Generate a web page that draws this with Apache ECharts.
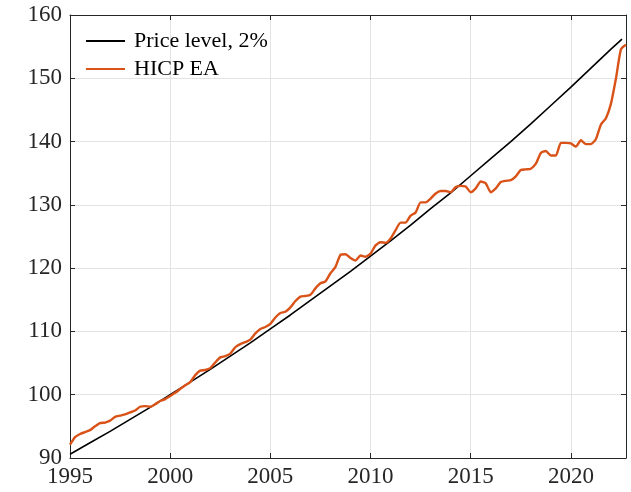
<!DOCTYPE html>
<html>
<head>
<meta charset="utf-8">
<script src="https://cdn.jsdelivr.net/npm/echarts@6/dist/echarts.min.js"></script>
<style>html,body{margin:0;padding:0;background:#fff}#c{width:631px;height:492px}</style>
</head>
<body>
<div id="c"></div>
<script>
// Tick values
const xTicks = [1995, 2000, 2005, 2010, 2015, 2020];
const yTicks = [90, 100, 110, 120, 130, 140, 150, 160];

// Series names
const seriesNames = ['Price level, 2%', 'HICP EA'];

// Price level path (2% per year), read at yearly points
const priceYears = [1995, 1996, 1997, 1998, 1999, 2000, 2001, 2002, 2003, 2004, 2005, 2006, 2007, 2008, 2009, 2010, 2011, 2012, 2013, 2014, 2015, 2016, 2017, 2018, 2019, 2020, 2021, 2022, 2022.55];
const priceLevel = [90.6, 92.4, 94.2, 96.1, 98.0, 100.0, 102.0, 104.0, 106.1, 108.2, 110.4, 112.6, 114.9, 117.2, 119.5, 121.9, 124.3, 126.8, 129.4, 131.9, 134.6, 137.3, 140.0, 142.8, 145.7, 148.6, 151.6, 154.6, 156.2];

// HICP euro area, quarterly readings starting 1995 Q1
const hicpStart = 1995;
const hicpValues = [
  92.1, 93.3, 93.8, 94.1,
  94.4, 95.0, 95.5, 95.6,
  95.9, 96.5, 96.7, 96.9,
  97.2, 97.5, 98.1, 98.2,
  98.1, 98.5, 99.0, 99.3,
  99.8, 100.3, 100.9, 101.5,
  102.0, 103.1, 103.8, 103.9,
  104.2, 105.1, 105.9, 106.1,
  106.5, 107.5, 108.0, 108.3,
  108.7, 109.7, 110.4, 110.7,
  111.2, 112.2, 112.9, 113.1,
  113.8, 114.8, 115.5, 115.6,
  115.8, 116.8, 117.6, 117.9,
  119.2, 120.2, 122.1, 122.2,
  121.6, 121.2, 122.0, 121.8,
  122.3, 123.6, 124.1, 124.0,
  124.7, 126.0, 127.2, 127.2,
  128.3, 128.8, 130.4, 130.4,
  131.0, 131.8, 132.2, 132.2,
  132.0, 132.8, 133.0, 132.9,
  132.0, 132.6, 133.7, 133.4,
  132.0, 132.6, 133.6, 133.8,
  133.9, 134.5, 135.5, 135.6,
  135.7, 136.5, 138.2, 138.5,
  137.8, 137.8, 139.8, 139.8,
  139.7, 139.2, 140.2, 139.6,
  139.6, 140.4, 142.7, 143.7,
  146.0, 150.0, 154.6, 155.3
];

const hicpData = hicpValues.map((v, i) => [hicpStart + i / 4, v]);
const priceData = priceYears.map((y, i) => [y, priceLevel[i]]);

const FONT = 'Liberation Serif';
const axisColor = '#262626';
const chart = echarts.init(document.getElementById('c'), null, {renderer: 'canvas'});
chart.setOption({
  animation: false,
  backgroundColor: '#fff',
  grid: {left: 70, right: 5, top: 15, bottom: 34, containLabel: false},
  legend: {
    data: seriesNames,
    orient: 'vertical',
    left: 86, top: 30,
    padding: 0,
    itemWidth: 39, itemHeight: 2, itemGap: 6,
    icon: 'rect',
    textStyle: {fontFamily: FONT, fontSize: 22, color: '#000', lineHeight: 22, padding: [0, 0, 0, 4]}
  },
  xAxis: [{
    type: 'value', min: xTicks[0], max: 2022.75, interval: 5,
    axisLine: {show: true, lineStyle: {color: axisColor, width: 1}},
    axisTick: {show: true, inside: true, length: 5, lineStyle: {color: axisColor}},
    axisLabel: {fontFamily: FONT, fontSize: 23, color: '#262626', margin: 7, showMaxLabel: false,
      formatter: v => xTicks.includes(v) ? String(v) : ''},
    splitLine: {show: true, lineStyle: {color: '#e3e3e3', width: 1}}
  }, {
    type: 'value', position: 'top', min: xTicks[0], max: 2022.75, interval: 5,
    axisLine: {show: true, onZero: false, lineStyle: {color: axisColor, width: 1}},
    axisTick: {show: true, inside: true, length: 5, lineStyle: {color: axisColor}},
    axisLabel: {show: false}, splitLine: {show: false}
  }],
  yAxis: [{
    type: 'value', min: yTicks[0], max: yTicks[yTicks.length - 1], interval: 10,
    axisLine: {show: true, lineStyle: {color: axisColor, width: 1}},
    axisTick: {show: true, inside: true, length: 5, lineStyle: {color: axisColor}},
    axisLabel: {fontFamily: FONT, fontSize: 23, color: '#262626', margin: 8},
    splitLine: {show: true, lineStyle: {color: '#e3e3e3', width: 1}}
  }, {
    type: 'value', position: 'right', min: yTicks[0], max: yTicks[yTicks.length - 1], interval: 10,
    axisLine: {show: true, onZero: false, lineStyle: {color: axisColor, width: 1}},
    axisTick: {show: true, inside: true, length: 5, lineStyle: {color: axisColor}},
    axisLabel: {show: false}, splitLine: {show: false}
  }],
  series: [{
    name: seriesNames[0], type: 'line', data: priceData, showSymbol: false, symbol: 'none',
    lineStyle: {color: '#000', width: 1.6}, itemStyle: {color: '#000'}, z: 3
  }, {
    name: seriesNames[1], type: 'line', data: hicpData, showSymbol: false, symbol: 'none',
    smooth: 0.2,
    lineStyle: {color: '#D95319', width: 2.4}, itemStyle: {color: '#D95319'}, z: 4
  }]
});
</script>
</body>
</html>
